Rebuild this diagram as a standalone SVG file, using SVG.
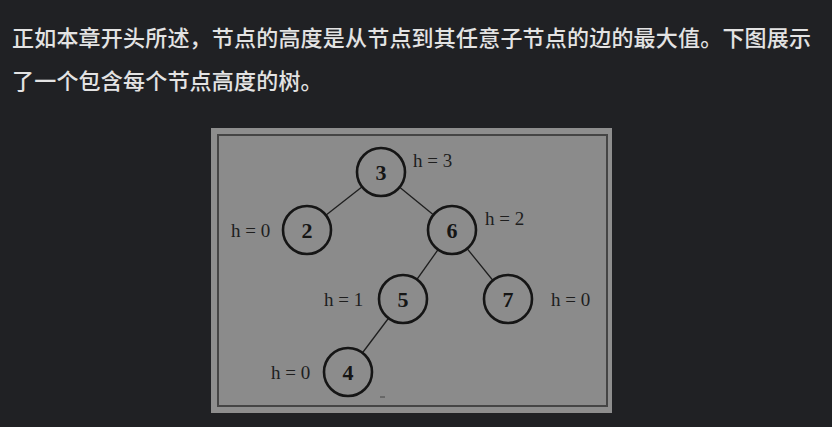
<svg xmlns="http://www.w3.org/2000/svg" width="832" height="427" viewBox="0 0 832 427">
<style>
.para{font-family:"Noto Sans CJK SC","Noto Sans",sans-serif;font-size:22px;fill:#e3e3e3;letter-spacing:0.2px;font-weight:500}
.node circle{fill:#8c8c8c;stroke:#151515;stroke-width:2.6}
.node text{font-family:"Liberation Serif","Times New Roman",serif;font-size:22px;font-weight:bold;fill:#151515;text-anchor:middle}
.lbl{font-family:"Liberation Serif","Times New Roman",serif;font-size:19px;fill:#1e1e1e}
.edges line{stroke:#1e1e1e;stroke-width:1.3}
</style>
<rect width="832" height="427" fill="#202124"/>
<text class="para" x="12" y="46">正如本章开头所述，节点的高度是从节点到其任意子节点的边的最大值。下图展示</text>
<text class="para" x="12" y="89">了一个包含每个节点高度的树。</text>
<rect x="211" y="128" width="401" height="285" fill="#8e8e8e"/>
<rect x="218" y="135" width="389" height="271" fill="#8b8b8b" stroke="#454545" stroke-width="2"/>
<g class="edges">
<line x1="381" y1="172" x2="307" y2="230"/>
<line x1="381" y1="172" x2="452" y2="230"/>
<line x1="452" y1="230" x2="403" y2="299"/>
<line x1="452" y1="230" x2="508" y2="299"/>
<line x1="403" y1="299" x2="348" y2="372"/>
</g>
<g id="n3" class="node"><circle cx="381" cy="172" r="24"/><text x="381" y="180">3</text></g>
<g id="n2" class="node"><circle cx="307" cy="230" r="24"/><text x="307" y="238">2</text></g>
<g id="n6" class="node"><circle cx="452" cy="230" r="24"/><text x="452" y="238">6</text></g>
<g id="n5" class="node"><circle cx="403" cy="299" r="24"/><text x="403" y="307">5</text></g>
<g id="n7" class="node"><circle cx="508" cy="299" r="24"/><text x="508" y="307">7</text></g>
<g id="n4" class="node"><circle cx="348" cy="372" r="24"/><text x="348" y="380">4</text></g>
<text class="lbl" x="413" y="167">h = 3</text>
<text class="lbl" x="231" y="237">h = 0</text>
<text class="lbl" x="485" y="225">h = 2</text>
<text class="lbl" x="324" y="306">h = 1</text>
<text class="lbl" x="551" y="306">h = 0</text>
<text class="lbl" x="271" y="379">h = 0</text>
<line x1="380" y1="397" x2="385" y2="397" stroke="#444" stroke-width="1"/>
</svg>
